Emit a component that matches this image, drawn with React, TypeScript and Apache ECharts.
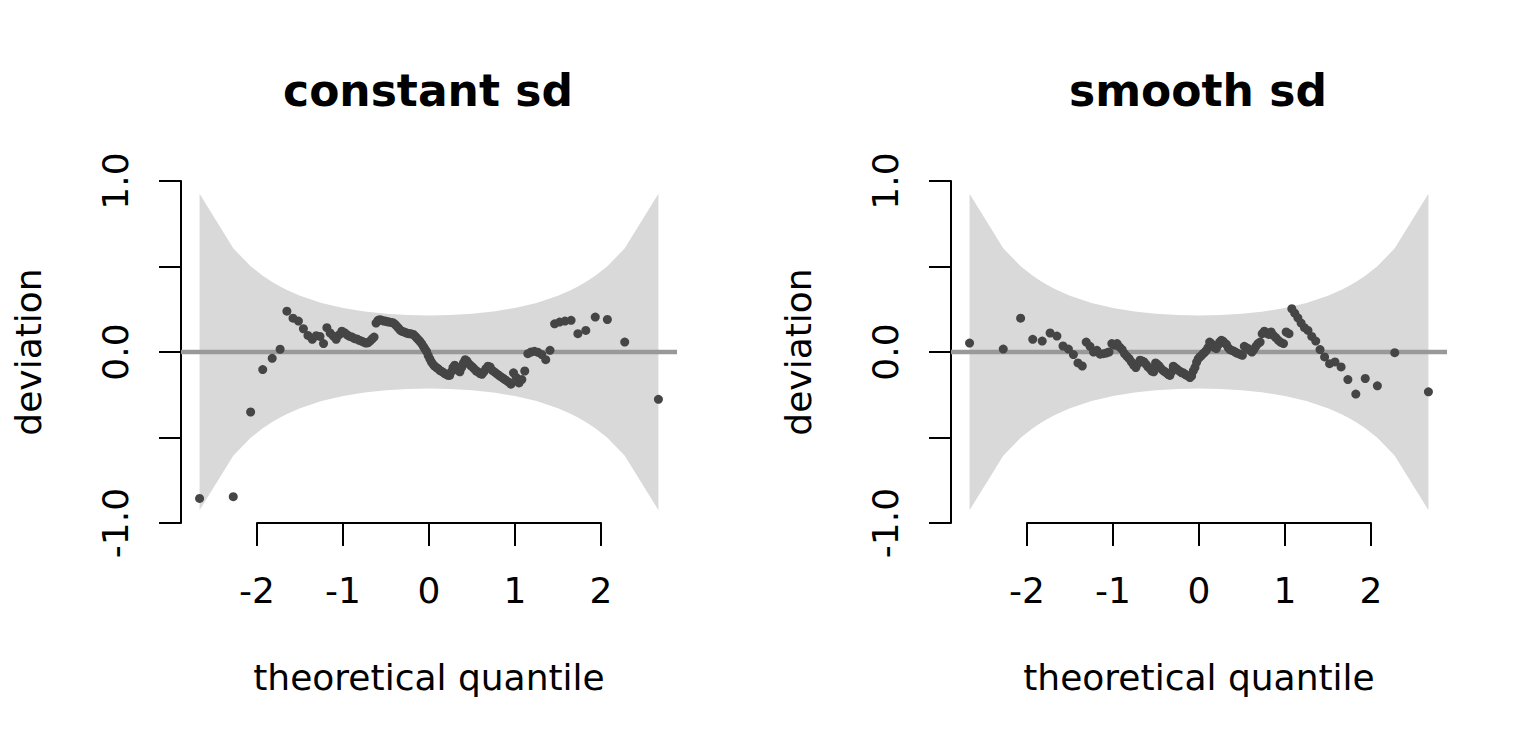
import React, { useEffect, useRef } from 'react';
import * as echarts from 'echarts';

// theoretical normal quantiles of the 132 residuals
const QUANTILES = [
  -2.669, -2.277, -2.075, -1.934, -1.824, -1.732, -1.653, -1.582, -1.519, -1.461,
  -1.408, -1.358, -1.312, -1.268, -1.227, -1.188, -1.15, -1.114, -1.08, -1.047,
  -1.014, -0.983, -0.953, -0.923, -0.894, -0.866, -0.839, -0.812, -0.786, -0.76,
  -0.735, -0.711, -0.686, -0.662, -0.639, -0.616, -0.593, -0.571, -0.549, -0.527,
  -0.505, -0.484, -0.462, -0.441, -0.421, -0.4, -0.38, -0.359, -0.339, -0.319,
  -0.299, -0.279, -0.259, -0.24, -0.22, -0.201, -0.182, -0.162, -0.143, -0.124,
  -0.105, -0.086, -0.066, -0.047, -0.028, -0.009,
  0.009, 0.028, 0.047, 0.066, 0.086, 0.105, 0.124, 0.143, 0.162, 0.182,
  0.201, 0.22, 0.24, 0.259, 0.279, 0.299, 0.319, 0.339, 0.359, 0.38,
  0.4, 0.421, 0.441, 0.462, 0.484, 0.505, 0.527, 0.549, 0.571, 0.593,
  0.616, 0.639, 0.662, 0.686, 0.711, 0.735, 0.76, 0.786, 0.812, 0.839,
  0.866, 0.894, 0.923, 0.953, 0.983, 1.014, 1.047, 1.08, 1.114, 1.15,
  1.188, 1.227, 1.268, 1.312, 1.358, 1.408, 1.461, 1.519, 1.582, 1.653,
  1.732, 1.824, 1.934, 2.075, 2.277, 2.669,
];

const CONSTANT_SD = [
  -0.856, -0.846, -0.351, -0.103, -0.037, 0.016, 0.239, 0.198, 0.181, 0.136,
  0.097, 0.074, 0.095, 0.091, 0.049, 0.142, 0.111, 0.093, 0.074, 0.1,
  0.122, 0.113, 0.101, 0.091, 0.087, 0.078, 0.076, 0.068, 0.064, 0.058,
  0.052, 0.054, 0.064, 0.076, 0.087, 0.169, 0.185, 0.189, 0.185, 0.181,
  0.181, 0.177, 0.175, 0.173, 0.171, 0.165, 0.154, 0.142, 0.13, 0.122,
  0.119, 0.115, 0.111, 0.107, 0.107, 0.105, 0.103, 0.093, 0.082, 0.072,
  0.062, 0.049, 0.033, 0.018, 0.003, -0.02, -0.04, -0.058, -0.072, -0.083,
  -0.091, -0.097, -0.107, -0.112, -0.118, -0.126, -0.13, -0.136, -0.137, -0.116,
  -0.091, -0.077, -0.087, -0.107, -0.116, -0.091, -0.064, -0.045, -0.052, -0.068,
  -0.079, -0.087, -0.099, -0.111, -0.116, -0.126, -0.13, -0.116, -0.097, -0.083,
  -0.087, -0.107, -0.116, -0.126, -0.136, -0.146, -0.155, -0.165, -0.175, -0.188,
  -0.122, -0.149, -0.181, -0.161, -0.111, -0.01, 0, 0.004, -0.002, -0.015,
  -0.045, 0.01, 0.165, 0.175, 0.181, 0.185, 0.107, 0.126, 0.204, 0.19,
  0.058, -0.277,
];

const SMOOTH_SD = [
  0.052, 0.017, 0.198, 0.074, 0.064, 0.111, 0.093, 0.035, 0.017, -0.015,
  -0.064, -0.082, 0.058, 0.033, 0, 0.01, -0.013, -0.01, -0.006, 0,
  0.049, 0.039, 0.049, 0.029, 0.014, -0.01, -0.025, -0.039, -0.058, -0.077,
  -0.091, -0.068, -0.048, -0.052, -0.058, -0.072, -0.087, -0.097, -0.111, -0.116,
  -0.064, -0.072, -0.083, -0.097, -0.107, -0.114, -0.122, -0.13, -0.137, -0.116,
  -0.083, -0.091, -0.099, -0.107, -0.114, -0.122, -0.122, -0.13, -0.137, -0.141,
  -0.149, -0.14, -0.11, -0.09, -0.06, -0.04, -0.029, -0.021, -0.01, -0.002,
  0.01, 0.026, 0.058, 0.049, 0.033, 0.026, 0.02, 0.039, 0.058, 0.068,
  0.064, 0.052, 0.045, 0.026, 0.014, 0.01, 0.006, 0, -0.006, -0.01,
  -0.015, -0.019, 0.033, 0.026, 0.02, 0.01, 0, 0.014, 0.033, 0.049,
  0.058, 0.107, 0.122, 0.111, 0.103, 0.117, 0.097, 0.084, 0.068, 0.056,
  0.049, 0.117, 0.107, 0.253, 0.227, 0.2, 0.169, 0.142, 0.126, 0.091,
  0.064, 0.014, -0.029, -0.068, -0.058, -0.087, -0.161, -0.246, -0.155, -0.198,
  -0.004, -0.233,
];

// 95% band around zero (half width)
const BAND_Z = [
  -2.669, -2.277, -2.075, -1.934, -1.824, -1.732, -1.653, -1.5, -1.25, -1, -0.75, -0.5, -0.25, 0,
  0.25, 0.5, 0.75, 1, 1.25, 1.5, 1.653, 1.732, 1.824, 1.934, 2.075, 2.277, 2.669,
];
const BAND_HALF = [
  0.925, 0.606, 0.502, 0.446, 0.41, 0.383, 0.363, 0.329, 0.287, 0.258, 0.237, 0.224, 0.216, 0.214,
  0.216, 0.224, 0.237, 0.258, 0.287, 0.329, 0.363, 0.383, 0.41, 0.446, 0.502, 0.606, 0.925,
];

const Y_LABELLED = [-1, 0, 1];
const PANEL_TITLES = ['constant sd', 'smooth sd'];
const PANEL_VALUES = [CONSTANT_SD, SMOOTH_SD];

const FONT = 'DejaVu Sans';
const X_RANGE = 2.885;
const PANEL_STEP = 770;

const buildOption = (): echarts.EChartsOption => {
  const grid: any[] = [];
  const xAxis: any[] = [];
  const yAxis: any[] = [];
  const series: any[] = [];
  const graphic: any[] = [];

  PANEL_TITLES.forEach((title, p) => {
    const off = p * PANEL_STEP;
    const g = p * 2;
    grid.push({ left: 181 + off, top: 181, width: 496, height: 342 });
    grid.push({ left: 257 + off, top: 181, width: 344, height: 342 });

    xAxis.push({ gridIndex: g, type: 'value', min: -X_RANGE, max: X_RANGE, show: false });
    xAxis.push({
      gridIndex: g + 1,
      type: 'value',
      min: -2,
      max: 2,
      interval: 1,
      axisLine: { show: true, onZero: false, lineStyle: { color: '#000', width: 2 } },
      axisTick: { show: true, length: 23, lineStyle: { color: '#000', width: 2 } },
      axisLabel: { color: '#000', fontSize: 36, fontFamily: FONT, margin: 49 },
      splitLine: { show: false },
      name: 'theoretical quantile',
      nameLocation: 'middle',
      nameGap: 136,
      nameTextStyle: { color: '#000', fontSize: 36, fontFamily: FONT },
    });

    yAxis.push({
      gridIndex: g,
      type: 'value',
      min: -1,
      max: 1,
      interval: 0.5,
      axisLine: { show: true, onZero: false, lineStyle: { color: '#000', width: 2 } },
      axisTick: { show: true, length: 22, lineStyle: { color: '#000', width: 2 } },
      axisLabel: {
        color: '#000',
        fontSize: 36,
        fontFamily: FONT,
        rotate: 90,
        margin: 48,
        showMinLabel: true,
        showMaxLabel: true,
        formatter: (v: number) => (Y_LABELLED.includes(v) ? v.toFixed(1) : ''),
      },
      splitLine: { show: false },
      name: 'deviation',
      nameLocation: 'middle',
      nameGap: 135,
      nameTextStyle: { color: '#000', fontSize: 36, fontFamily: FONT },
    });
    yAxis.push({ gridIndex: g + 1, type: 'value', min: -1, max: 1, show: false });

    series.push({
      type: 'custom',
      xAxisIndex: g,
      yAxisIndex: g,
      silent: true,
      z: 1,
      data: [[0, 0]],
      renderItem: (_params: any, api: any) => {
        const upper = BAND_Z.map((z, i) => api.coord([z, BAND_HALF[i]]));
        const lower = BAND_Z.map((z, i) => api.coord([z, -BAND_HALF[i]])).reverse();
        return {
          type: 'polygon',
          shape: { points: upper.concat(lower) },
          style: { fill: '#D9D9D9' },
        };
      },
    });
    series.push({
      type: 'line',
      xAxisIndex: g,
      yAxisIndex: g,
      silent: true,
      z: 2,
      symbol: 'none',
      lineStyle: { color: '#999999', width: 4.5 },
      data: [[-X_RANGE, 0], [X_RANGE, 0]],
    });
    series.push({
      type: 'scatter',
      xAxisIndex: g,
      yAxisIndex: g,
      silent: true,
      z: 3,
      symbolSize: 9,
      itemStyle: { color: '#454545', opacity: 1 },
      data: QUANTILES.map((q, i) => [q, PANEL_VALUES[p][i]]),
    });

    graphic.push({
      type: 'text',
      x: 428 + off,
      y: 90,
      style: {
        text: title,
        fill: '#000',
        font: `bold 44px "${FONT}"`,
        textAlign: 'center',
        textVerticalAlign: 'middle',
      },
    });
  });

  return {
    animation: false,
    backgroundColor: '#ffffff',
    grid,
    xAxis,
    yAxis,
    series,
    graphic,
  };
};

const App = (): JSX.Element => {
  const divEL = useRef<HTMLDivElement>(null);

  useEffect(() => {
    const instance = echarts.init(divEL.current as any, undefined, { renderer: 'svg' });
    instance.setOption(buildOption());
    return () => {
      instance.dispose();
    };
  }, []);

  return (
    <div
      ref={divEL}
      style={{ position: 'absolute', left: 0, top: 0, width: 1540, height: 748, background: '#fff' }}
    ></div>
  );
};

export default App;
